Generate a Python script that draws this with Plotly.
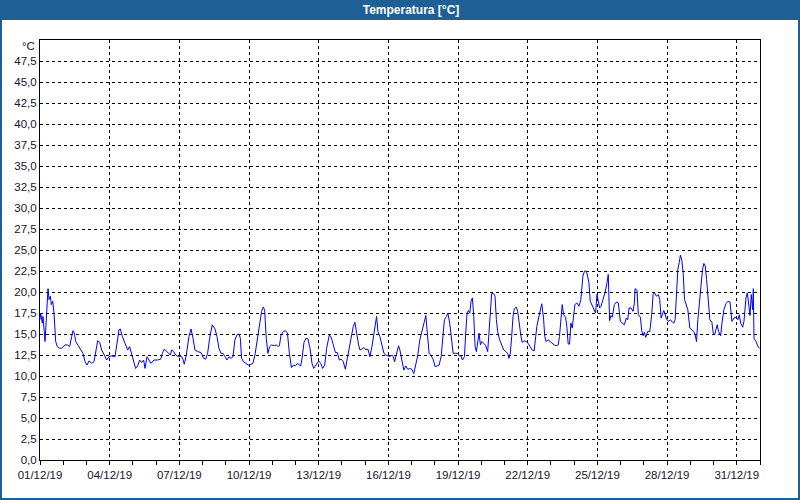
import pandas as pd
import plotly.graph_objects as go

# ---- data: hours since 01/12/2019 00:00 and temperature [°C] ----
hours_a = [0, 0.7, 2.4, 3.1, 5.2, 6.6, 8.3, 9.3, 10.7, 11.7, 13.1, 14.5, 16.2, 17.9, 20.3, 22.4,
           25.9, 28.3, 30.7, 32.7, 34.1, 35.5, 36.9, 39.6, 42.4, 44.4, 46.5, 48.6, 50.6, 53.4,
           55.8, 57.5, 59.6, 61.7, 63.7, 66.5, 68.9, 71.3, 74.1, 77.5, 79.6, 81.6, 83.0, 85.1,
           87.8, 90.6, 92.6, 94.7, 96.4, 98.8, 100.9, 103.0, 105.0, 107.1, 108.5, 110.6, 112.6,
           114.7, 117.8, 121.2, 124.7, 126.4, 128.5, 130.5, 132.6, 134.7, 136.0, 138.1, 140.2,
           142.9, 146.4, 147.7, 149.1, 151.2, 153.9, 156.0, 158.1, 160.1, 162.9, 166.3, 169.1,
           171.2, 173.2, 175.3, 178.0, 180.8, 182.9, 184.9, 187.0, 189.1, 191.1, 193.2, 195.3,
           197.3, 199.4, 201.4, 203.5, 205.6, 207.0, 208.3, 210.4, 212.5, 215.2, 218.0, 220.0,
           222.1, 224.5, 226.9, 229.0, 230.7, 232.1, 233.8, 235.5, 237.3, 239.3, 242.1, 244.1,
           246.2]
temp_a = [16.7, 17.5, 16.3, 17.1, 14.1, 16.7, 20.4, 19.1, 19.5, 18.5, 18.9, 17.5, 14.1, 13.5, 13.3, 13.3,
          13.7, 13.7, 13.5, 14.7, 15.4, 15.1, 14.1, 13.6, 13.1, 12.7, 11.7, 11.3, 11.8, 11.5,
          11.7, 12.7, 14.2, 14.0, 13.1, 12.5, 11.9, 12.3, 12.4, 12.3, 13.7, 15.5, 15.6, 14.7,
          13.9, 13.1, 13.5, 12.7, 11.9, 10.9, 11.2, 11.9, 11.6, 11.9, 10.9, 12.3, 11.9,
          11.5, 11.9, 11.9, 12.0, 12.7, 13.2, 13.0, 12.7, 12.5, 13.1, 12.9, 12.5,
          12.3, 12.3, 12.0, 11.4, 12.5, 14.7, 15.6, 14.5, 13.1, 12.9, 12.8, 12.1,
          12.0, 12.7, 14.5, 16.1, 15.6, 14.7, 13.3, 12.7, 12.7, 12.3, 11.9, 12.3,
          12.1, 12.3, 14.3, 14.9, 15.0, 14.5, 12.1, 11.7, 11.5, 11.3, 11.4, 11.5,
          12.5, 14.3, 16.5, 17.7, 18.2, 17.9, 14.5, 12.7, 13.5, 13.7, 13.6, 13.7,
          13.5]

hours_b = [247.4, 249.1, 251.5, 253.6, 255.7, 257.7, 259.8, 261.8, 263.9, 266.0, 267.3, 269.4, 270.8,
           272.8, 274.9, 277.0, 279.0, 281.1, 282.8, 284.5, 286.2, 288.0, 290.0, 292.1, 294.2,
           296.2, 299.0, 301.0, 303.1, 305.2, 307.2, 309.3, 311.3, 313.4, 315.5, 317.5, 319.6,
           321.7, 323.7, 325.4, 327.2, 329.2, 330.6, 332.7, 334.7, 336.8, 338.9, 340.9, 343.0,
           345.0, 346.4, 347.8, 349.2, 351.2, 353.3, 355.4, 357.4, 359.5, 361.5, 363.6, 365.0,
           366.4, 368.4, 370.5, 371.9, 373.9, 376.0, 378.0, 380.1, 382.2, 384.2, 386.3, 388.4,
           390.4, 392.5, 394.5, 396.6, 398.7, 400.4, 402.1, 404.2, 406.2, 408.3, 410.4, 412.4,
           414.5, 415.9, 417.9, 420.0, 421.4, 423.4, 425.5, 426.9, 429.6, 431.7, 433.0, 435.1,
           436.5, 438.6, 439.9, 441.3, 442.7, 444.1, 445.4, 446.8, 448.2, 449.6, 450.9, 452.3,
           453.7, 455.1, 456.4, 458.5, 460.6, 462.6, 464.0, 465.4, 466.7, 468.8, 470.2, 471.6,
           472.9, 475.0, 477.1, 479.2, 481.2, 483.3, 484.6, 486.0, 487.4, 488.8, 490.1, 492.2,
           493.6, 494.6]
temp_b = [13.6, 14.9, 15.3, 15.4, 15.1, 12.7, 11.0, 11.3, 11.2, 11.5, 11.4, 11.2, 12.1,
          14.0, 14.5, 14.4, 13.3, 11.5, 10.9, 11.2, 11.5, 11.8, 11.5, 10.9, 11.3,
          13.3, 14.9, 14.6, 13.7, 12.8, 12.8, 11.9, 12.0, 11.7, 10.8, 12.1, 13.5,
          15.1, 15.9, 16.4, 14.9, 13.7, 13.1, 13.2, 13.4, 13.1, 13.2, 12.3, 13.5,
          15.1, 16.1, 17.1, 15.3, 14.7, 13.7, 12.7, 12.5, 12.4, 12.3, 12.5, 12.3,
          11.7, 12.7, 13.6, 13.1, 12.0, 10.7, 11.2, 10.8, 10.9, 10.8, 10.3, 11.3,
          12.5, 14.3, 15.3, 16.5, 17.2, 14.9, 12.7, 12.4, 12.0, 11.1, 11.2, 11.3,
          12.3, 14.3, 16.7, 17.1, 17.5, 16.3, 14.5, 12.7, 12.7, 12.7, 12.4, 12.4,
          11.9, 12.3, 15.1, 17.5, 17.8, 17.5, 18.9, 19.3, 17.1, 13.5, 12.9, 14.1,
          15.1, 13.7, 14.1, 13.9, 13.6, 12.9, 15.7, 18.3, 19.8, 19.8, 19.5, 16.7,
          15.3, 14.3, 13.7, 13.1, 12.9, 12.7, 12.1, 12.7, 14.7, 17.1, 18.0, 18.2,
          17.7, 16.7]

hours_c = [495.4, 496.8, 498.2, 500.2, 502.3, 504.4, 506.4, 508.5, 510.6, 512.0, 513.4, 515.4, 517.5,
           518.5, 520.3, 521.6, 523.0, 525.1, 527.2, 529.2, 531.3, 533.4, 535.5, 536.8, 538.2,
           539.6, 541.0, 543.1, 544.4, 545.8, 547.2, 548.6, 550.0, 551.3, 552.7, 554.8, 556.9,
           558.9, 561.0, 562.7, 564.5, 565.8, 567.2, 568.6, 570.7, 572.7, 574.1, 575.5, 576.9,
           578.3, 579.7, 581.7, 583.8, 585.9, 587.2, 588.6, 590.0, 591.4, 593.5, 595.5, 597.6,
           599.7, 601.8, 603.8, 605.9, 607.3, 608.7, 610.7, 612.8, 614.2, 614.9, 616.9, 618.3,
           620.4, 621.8, 623.2, 624.5, 625.9, 628.0, 630.1, 632.1, 633.5, 634.9, 637.0, 639.0,
           640.4, 641.8, 643.2, 644.6, 645.9, 647.3, 649.4, 651.5, 653.5, 654.9, 656.3, 657.7,
           659.1, 660.5, 661.8, 663.2, 664.6, 666.0, 667.4, 669.4, 671.5, 673.6, 675.6, 677.0,
           678.4, 679.8, 681.9, 683.2, 684.6, 686.0, 687.4, 688.8, 690.8, 692.2, 694.3, 695.7,
           697.1, 698.4, 699.8, 701.2, 703.3, 704.7, 706.7, 708.8, 710.9, 713.0, 715.0, 717.1,
           719.2, 721.2, 722.6, 724.0, 726.1, 727.4, 729.5, 730.9, 732.3, 733.7, 735.0, 736.4,
           737.1, 737.8, 739.9, 741.9, 743.7]
temp_c = [16.6, 14.9, 14.0, 14.2, 14.1, 13.9, 13.5, 13.1, 13.0, 14.3, 15.9, 17.0, 18.1,
          18.6, 16.9, 14.7, 14.1, 14.3, 14.1, 13.9, 13.7, 13.6, 13.7, 14.7, 17.3,
          18.5, 17.3, 17.0, 15.9, 13.8, 13.8, 16.3, 15.7, 17.3, 18.5, 18.7, 18.3,
          19.1, 21.9, 22.5, 22.5, 21.9, 21.1, 18.9, 18.3, 17.7, 17.5, 19.7, 18.9,
          18.1, 18.3, 19.1, 19.9, 21.1, 22.1, 16.6, 17.2, 17.0, 18.5, 18.8, 18.7,
          16.5, 16.3, 16.1, 16.9, 16.7, 18.1, 18.1, 17.7, 18.7, 20.4, 20.2, 17.3,
          17.0, 15.4, 14.8, 15.2, 14.6, 15.3, 15.3, 17.3, 19.7, 19.9, 19.5, 19.7,
          19.1, 16.9, 17.3, 17.8, 17.4, 16.8, 16.5, 16.7, 16.4, 16.3, 16.7, 19.1,
          22.7, 23.5, 24.4, 23.8, 22.3, 19.1, 18.7, 17.9, 15.7, 15.5, 15.3, 14.9,
          14.1, 16.7, 19.7, 21.3, 22.7, 23.4, 23.1, 21.5, 18.3, 16.7, 16.4, 15.1,
          14.9, 15.6, 16.1, 15.3, 14.8, 16.3, 17.9, 18.6, 18.9, 18.8, 16.5, 16.9,
          17.0, 16.7, 17.3, 16.3, 15.8, 16.5, 19.3, 19.9, 18.5, 17.2, 19.7, 17.9,
          20.4, 14.5, 14.1, 13.5, 13.3]

y_ticks = [0, 2.5, 5, 7.5, 10, 12.5, 15, 17.5, 20, 22.5, 25, 27.5, 30, 32.5, 35, 37.5, 40, 42.5, 45, 47.5]
y_labels = ["0,0", "2,5", "5,0", "7,5", "10,0", "12,5", "15,0", "17,5", "20,0", "22,5", "25,0",
            "27,5", "30,0", "32,5", "35,0", "37,5", "40,0", "42,5", "45,0", "47,5"]
x_ticks = ["2019-12-01", "2019-12-04", "2019-12-07", "2019-12-10", "2019-12-13", "2019-12-16",
           "2019-12-19", "2019-12-22", "2019-12-25", "2019-12-28", "2019-12-31"]
x_labels = ["01/12/19", "04/12/19", "07/12/19", "10/12/19", "13/12/19", "16/12/19",
            "19/12/19", "22/12/19", "25/12/19", "28/12/19", "31/12/19"]
title_text = "Temperatura [°C]"
unit_text = "°C"

hours = hours_a + hours_b + hours_c
temps = temp_a + temp_b + temp_c
times = pd.Timestamp("2019-12-01") + pd.to_timedelta(hours, unit="h")

BLUE = "#1e5f96"
FONT = "Liberation Sans"
TXT = "#14142a"

fig = go.Figure()
fig.add_trace(go.Scatter(x=times, y=temps, mode="lines",
                         line=dict(color="#0000ff", width=1), hoverinfo="skip"))

W, H = 800, 500
ML, MR, MT, MB = 40, 40, 40, 40
PW, PH = W - ML - MR, H - MT - MB


def px2x(px):
    return (px - ML) / PW


def py2y(py):
    return (H - MB - py) / PH


fig.update_layout(
    width=W, height=H,
    margin=dict(l=ML, r=MR, t=MT, b=MB, pad=0),
    paper_bgcolor="white", plot_bgcolor="white",
    showlegend=False,
    font=dict(family=FONT, size=11.5, color=TXT),
    title=dict(text="<b>" + title_text + "</b>", x=411 / W, y=1 - 10 / H,
               xanchor="center", yanchor="middle", xref="container", yref="container",
               font=dict(family=FONT, size=12, color="white")),
    xaxis=dict(type="date", range=["2019-12-01", "2020-01-01"],
               tickvals=x_ticks, ticktext=x_labels,
               showgrid=True, gridcolor="black", griddash="3px,3px", gridwidth=1,
               showline=True, linecolor="black", linewidth=1, mirror=True,
               ticks="outside", ticklen=4, tickcolor="black", tickwidth=1,
               minor=dict(dtick=86400000, tick0="2019-12-01", ticks="outside", ticklen=4,
                          tickcolor="black", showgrid=False),
               zeroline=False, fixedrange=True),
    yaxis=dict(range=[0, 50], tickvals=y_ticks, ticktext=y_labels,
               showgrid=True, gridcolor="black", griddash="3px,3px", gridwidth=1,
               showline=True, linecolor="black", linewidth=1, mirror=True,
               ticks="", zeroline=False, fixedrange=True),
    shapes=[
        dict(type="rect", xref="paper", yref="paper",
             x0=px2x(0), x1=px2x(W), y0=py2y(20), y1=py2y(0),
             fillcolor=BLUE, line=dict(width=0), layer="above"),
        dict(type="rect", xref="paper", yref="paper",
             x0=px2x(1), x1=px2x(W - 1), y0=py2y(H - 1), y1=py2y(1),
             fillcolor="rgba(0,0,0,0)", line=dict(color=BLUE, width=2), layer="above"),
    ],
    annotations=[
        dict(text=unit_text, xref="paper", yref="paper", x=px2x(37), y=py2y(46),
             xanchor="right", yanchor="middle", showarrow=False,
             font=dict(family=FONT, size=11.5, color=TXT)),
    ],
)

fig.write_html("out.html", config={"displayModeBar": False, "staticPlot": True},
               post_script="document.body.style.margin='0';document.body.style.overflow='hidden';")
